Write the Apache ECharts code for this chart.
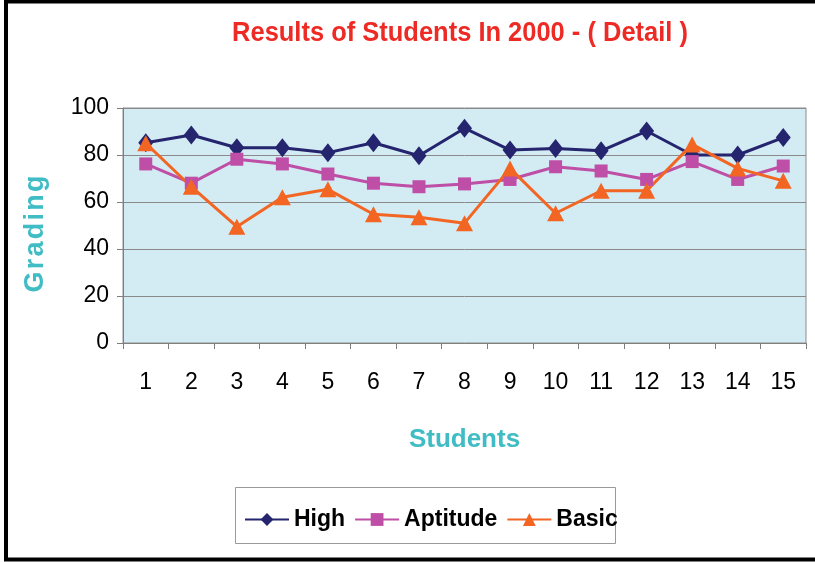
<!DOCTYPE html>
<html>
<head>
<meta charset="utf-8">
<script src="https://cdn.jsdelivr.net/npm/echarts@6/dist/echarts.min.js"></script>
<style>html,body{margin:0;padding:0;background:#fff}#c{width:815px;height:562px}</style>
</head>
<body>
<div id="c"></div>
<script>
var categories = ['1','2','3','4','5','6','7','8','9','10','11','12','13','14','15'];
var high = [85.2, 88.5, 83.1, 83.1, 81, 85.2, 79.7, 91.4, 82.1, 82.8, 81.8, 90.2, 80, 80, 87.4];
var aptitude = [76.2, 68, 78.2, 76.2, 71.9, 68, 66.5, 67.7, 69.6, 75, 73.2, 69.6, 77.2, 69.6, 75.3];
var basic = [85, 66.5, 49.5, 62, 65.4, 54.8, 53.5, 51, 74.3, 55.2, 64.8, 64.8, 84.5, 74.3, 69];
var yTicks = [0, 20, 40, 60, 80, 100];

var FONT = '"Liberation Sans", Arial, sans-serif';
var chart = echarts.init(document.getElementById('c'));
chart.setOption({
  animation: false,
  backgroundColor: '#ffffff',
  graphic: [
    { type: 'rect', shape: { x: 6, y: 1.5, width: 840, height: 558 }, style: { fill: 'none', stroke: '#000', lineWidth: 4 }, silent: true },
    { type: 'rect', shape: { x: 235.5, y: 487.5, width: 380, height: 56 }, style: { fill: '#fff', stroke: '#999', lineWidth: 1 }, silent: true, z: -1 },
    { type: 'text', x: 460, y: 33, scaleX: 0.91,
      style: { text: 'Results of Students In 2000 - ( Detail )', fill: '#ee2a24', font: 'bold 28px ' + FONT, textAlign: 'center', textVerticalAlign: 'middle' } },
    { type: 'text', x: 36, y: 234, rotation: Math.PI / 2,
      style: { text: 'G\u200Ar\u200Aa\u200Ad\u200Ai\u200An\u200Ag', fill: '#40bcc4', font: 'bold 27px ' + FONT, textAlign: 'center', textVerticalAlign: 'middle' } }
  ],
  legend: {
    left: 239, top: 503,
    itemWidth: 44, itemHeight: 16, itemGap: 9,
    textStyle: { color: '#000', fontSize: 23, fontWeight: 'bold', fontFamily: FONT },
    data: ['High', 'Aptitude', 'Basic']
  },
  grid: {
    left: 123, top: 108, right: 9, bottom: 219,
    show: true, backgroundColor: '#d3ebf2', borderColor: '#8c8c8c', borderWidth: 1,
    containLabel: false
  },
  xAxis: {
    type: 'category', data: categories, boundaryGap: true,
    name: 'Students', nameLocation: 'middle', nameGap: 84,
    nameTextStyle: { color: '#40bcc4', fontSize: 26, fontWeight: 'bold', fontFamily: FONT },
    axisLine: { lineStyle: { color: '#7f7f7f', width: 1 } },
    axisTick: { show: true, length: 6, alignWithLabel: false, lineStyle: { color: '#7f7f7f' } },
    axisLabel: { color: '#000', fontSize: 23, margin: 28, fontFamily: FONT },
    splitLine: { show: false }
  },
  yAxis: {
    type: 'value', min: 0, max: 100, interval: 20,
    axisLine: { show: true, lineStyle: { color: '#7f7f7f', width: 1 } },
    axisTick: { show: true, length: 6, lineStyle: { color: '#7f7f7f' } },
    axisLabel: { color: '#000', fontSize: 23, margin: 14, fontFamily: FONT,
      formatter: function (v) { return yTicks.indexOf(v) >= 0 ? String(v) : ''; } },
    splitLine: { show: true, lineStyle: { color: '#8a8a8a', width: 1 } }
  },
  series: [
    { name: 'High', type: 'line', data: high, symbol: 'diamond', symbolSize: [15, 19],
      lineStyle: { color: '#25246e', width: 3 }, itemStyle: { color: '#25246e' } },
    { name: 'Aptitude', type: 'line', data: aptitude, symbol: 'rect', symbolSize: 13,
      lineStyle: { color: '#bf4ea6', width: 3 }, itemStyle: { color: '#bf4ea6' } },
    { name: 'Basic', type: 'line', data: basic, symbol: 'triangle', symbolSize: [17, 16],
      lineStyle: { color: '#f26522', width: 3 }, itemStyle: { color: '#f26522' } }
  ]
});
</script>
</body>
</html>
